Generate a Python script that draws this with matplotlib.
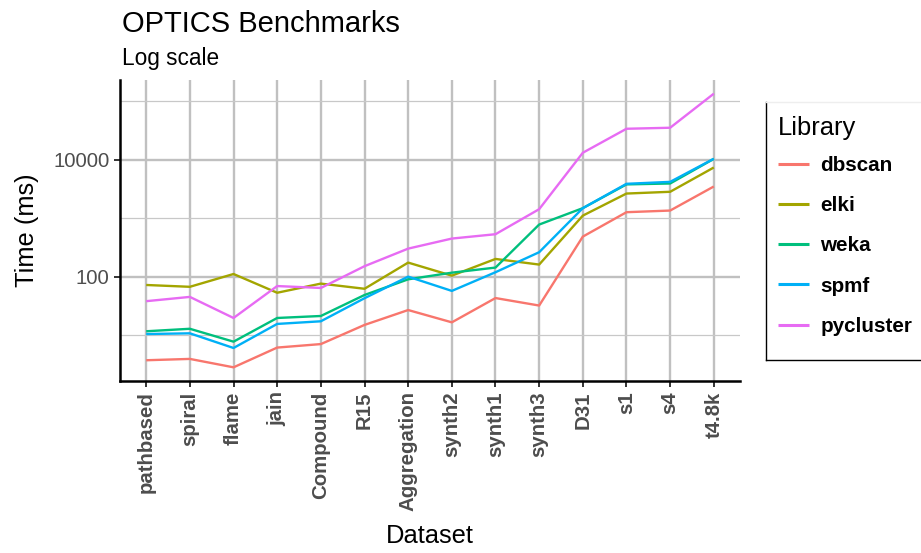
import numpy as np
import matplotlib
matplotlib.use("Agg")
import matplotlib.pyplot as plt
from matplotlib.lines import Line2D

plt.rcParams['font.family'] = ['Liberation Sans', 'DejaVu Sans']

# Dane (czas w ms)
datasets = ["pathbased", "spiral", "flame", "jain", "Compound", "R15", "Aggregation",
            "synth2", "synth1", "synth3", "D31", "s1", "s4", "t4.8k"]
dbscan = [3.7, 3.9, 2.8, 6.1, 7.0, 14.9, 26.8, 16.5, 43, 32, 485, 1270, 1355, 3500]
elki = [72, 67, 111, 53, 76, 62, 174, 104, 201, 161, 1110, 2650, 2840, 7400]
weka = [11.6, 12.8, 7.7, 19.6, 21.2, 48.5, 90, 117, 143, 780, 1490, 3800, 3940, 10400]
spmf = [10.4, 10.7, 6.0, 15.5, 17.2, 42.7, 100, 57, 119, 262, 1490, 3890, 4200, 10450]
pycluster = [38, 45, 19.6, 69, 64, 151, 302, 449, 533, 1430, 13240, 34100, 35500, 136000]

libraries = ["dbscan", "elki", "weka", "spmf", "pycluster"]
series = [dbscan, elki, weka, spmf, pycluster]
colors = ["#F8766D", "#A3A500", "#00BF7D", "#00B0F6", "#E76BF3"]

W, H = 921, 553
fig = plt.figure(figsize=(W / 100, H / 100), dpi=100)
ax = fig.add_axes([120 / W, 1 - 381 / H, 620 / W, 301 / H])

x = np.arange(len(datasets))
for name, vals, c in zip(libraries, series, colors):
    ax.plot(x, vals, color=c, lw=1.7, label=name, solid_capstyle='butt')

# skala logarytmiczna z rozszerzeniem 5% jak w ggplot
ax.set_yscale('log')
allv = np.log10(np.concatenate([np.array(s, float) for s in series]))
lo, hi = allv.min(), allv.max()
ex = 0.05 * (hi - lo)
ax.set_ylim(10 ** (lo - ex), 10 ** (hi + ex))
ax.set_xlim(-0.6, len(datasets) - 1 + 0.6)

ax.set_yticks([100, 10000])
ax.set_yticklabels(["100", "10000"])
ax.set_yticks([10, 1000, 100000], minor=True)
ax.yaxis.set_minor_formatter(matplotlib.ticker.NullFormatter())
ax.set_xticks(x)
ax.set_xticklabels(datasets, rotation=90, fontweight='bold')

ax.grid(True, which='major', color='#c0c0c0', lw=1.7)
ax.grid(True, which='minor', axis='y', color='#c8c8c8', lw=0.9)
ax.set_axisbelow(True)

for s in ['top', 'right']:
    ax.spines[s].set_visible(False)
for s in ['left', 'bottom']:
    ax.spines[s].set_linewidth(1.8)
    ax.spines[s].set_color('black')

ax.tick_params(axis='both', which='major', length=4.5, width=1.4, color='#333333',
               labelsize=14.7, labelcolor='#4d4d4d', pad=3)
ax.tick_params(axis='y', which='minor', length=0)

ax.set_xlabel('Dataset', fontsize=18.4, labelpad=9)
ax.set_ylabel('Time (ms)', fontsize=18.4, labelpad=10)

fig.text(122 / W, 1 - 32 / H, 'OPTICS Benchmarks', fontsize=21, ha='left', va='baseline')
fig.text(122 / W, 1 - 65 / H, 'Log scale', fontsize=16.3, ha='left', va='baseline')

leg = fig.legend(loc='upper left', bbox_to_anchor=(778 / W, 1 - 116 / H), frameon=False,
                 title='Library', title_fontsize=18.4, prop={'size': 14.9, 'weight': 'bold'},
                 handlelength=1.5, handletextpad=0.55, labelspacing=1.03,
                 borderpad=0, borderaxespad=0, alignment='left')
for h in leg.get_lines():
    h.set_linewidth(2.2)
# mniejszy odstep miedzy tytulem legendy a wpisami
leg._legend_box.sep = leg._legend_box.sep - 4

# ramka legendy (prawa krawedz poza obrazem)
fig.add_artist(Line2D([766 / W, 766 / W], [1 - 102 / H, 1 - 360 / H], color='black', lw=1.0))
fig.add_artist(Line2D([766 / W, 1.0], [1 - 360 / H, 1 - 360 / H], color='black', lw=1.0))
fig.add_artist(Line2D([766 / W, 1.0], [1 - 102 / H, 1 - 102 / H], color='#eeeeee', lw=1.0))

fig.savefig('out.png', dpi=100)
